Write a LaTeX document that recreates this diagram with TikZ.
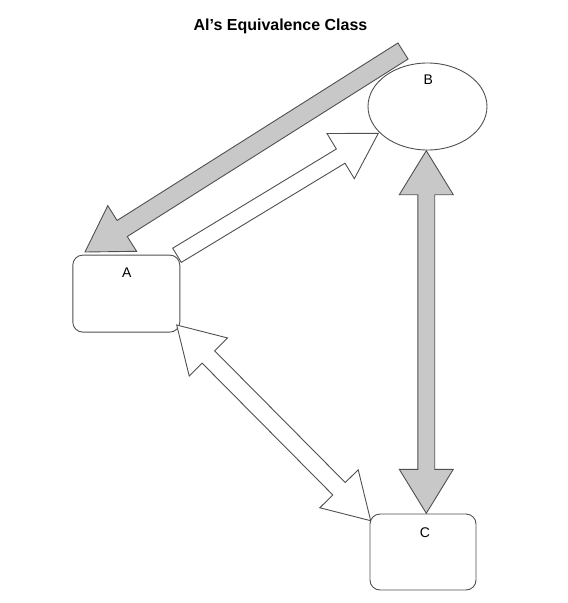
\documentclass[tikz,border=0pt]{standalone}
\usepackage{fontspec}
\setmainfont{Liberation Sans}
\usetikzlibrary{calc,shapes.geometric}
\definecolor{edgegray}{HTML}{505050}
\definecolor{fillgray}{HTML}{C8C8C8}
\newcommand\blockarr[6]{% style, start, tip, half shaft, half head, head length
  \draw[#1] ($(#2)!#4!90:(#3)$) -- ($(#3)!#6!(#2)!#4!-90:(#2)$) -- ($(#3)!#6!(#2)!#5!-90:(#2)$) -- (#3)
    -- ($(#3)!#6!(#2)!#5!90:(#2)$) -- ($(#3)!#6!(#2)!#4!90:(#2)$) -- ($(#2)!#4!-90:(#3)$) -- cycle;}
\newcommand\dblblockarr[6]{% style, tip1, tip2, half shaft, half head, head length
  \draw[#1] (#2) -- ($(#2)!#6!(#3)!#5!90:(#3)$) -- ($(#2)!#6!(#3)!#4!90:(#3)$)
    -- ($(#3)!#6!(#2)!#4!-90:(#2)$) -- ($(#3)!#6!(#2)!#5!-90:(#2)$) -- (#3)
    -- ($(#3)!#6!(#2)!#5!90:(#2)$) -- ($(#3)!#6!(#2)!#4!90:(#2)$)
    -- ($(#2)!#6!(#3)!#4!-90:(#3)$) -- ($(#2)!#6!(#3)!#5!-90:(#3)$) -- cycle;}
\tikzset{
  boxnode/.style={draw=edgegray, line width=0.9pt, rounded corners=10pt, fill=white, inner sep=0pt},
  ovalnode/.style={ellipse, draw=edgegray, line width=0.9pt, fill=white, inner sep=0pt},
  lbl/.style={font=\fontsize{14}{16}\selectfont, inner sep=0pt},
  greyarr/.style={draw=edgegray, fill=fillgray, line width=0.9pt, line join=miter},
  whitearr/.style={draw=edgegray, fill=white, line width=0.9pt, line join=miter}
}
\begin{document}
\begin{tikzpicture}[x=1pt,y=-1pt]
\useasboundingbox (0,0) rectangle (568,603);
\node[font=\bfseries\fontsize{16}{19}\selectfont, anchor=base, inner sep=0pt] (title) at (280.5,30) {Al’s Equivalence Class};
\node[boxnode, minimum width=107pt, minimum height=77pt] (A) at (126.3,293.6) {};
\node[boxnode, minimum width=106pt, minimum height=76pt] (C) at (423,552) {};
\node[ovalnode, minimum width=119pt, minimum height=87pt] (B) at (427.5,106.5) {};
\node[lbl] (Alab) at (126.7,272.7) {A};
\node[lbl] (Blab) at (428.3,80) {B};
\node[lbl] (Clab) at (425,533) {C};
% connector end points
\coordinate (baTail) at (403,51);
\coordinate (baTip) at (85,252);
\coordinate (abTail) at (177,255.3);
\coordinate (abTip) at (378.3,133.3);
\coordinate (acTipA) at (176.7,325);
\coordinate (acTipC) at (370.7,520.7);
\coordinate (bcTipB) at (426.3,150.7);
\coordinate (bcTipC) at (426.3,513.3);
\blockarr{greyarr}{baTail}{baTip}{9.5pt}{27pt}{44pt}
\blockarr{whitearr}{abTail}{abTip}{8.3pt}{26.4pt}{44pt}
\dblblockarr{whitearr}{acTipA}{acTipC}{8.8pt}{27pt}{45pt}
\dblblockarr{greyarr}{bcTipB}{bcTipC}{8.4pt}{27pt}{44pt}
\end{tikzpicture}
\end{document}
